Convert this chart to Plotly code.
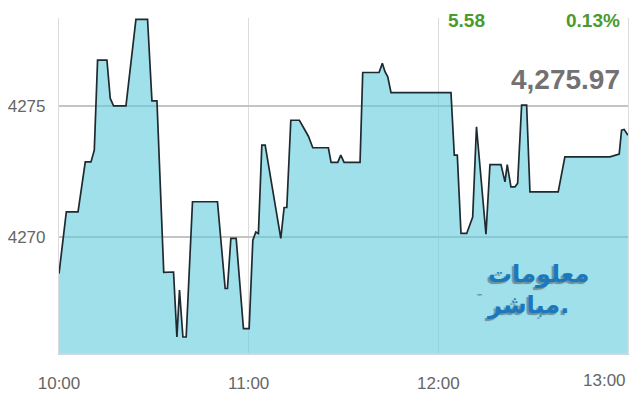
import plotly.graph_objects as go

DAY = "2020-01-01 "
times = ["10:00:00", "10:02:19", "10:06:01", "10:08:19", "10:10:07", "10:11:10", "10:12:12", "10:15:10",
         "10:16:13", "10:17:16", "10:21:11", "10:24:20", "10:28:01", "10:29:24", "10:30:59", "10:33:08",
         "10:36:14", "10:37:18", "10:38:07", "10:39:12", "10:40:14", "10:42:14", "10:50:08", "10:52:34",
         "10:53:17", "10:54:22", "10:56:03", "10:58:21", "11:00:09", "11:01:19", "11:02:16", "11:03:05",
         "11:04:10", "11:05:13", "11:10:10", "11:11:13", "11:12:04", "11:13:20", "11:16:03", "11:18:54",
         "11:20:17", "11:25:13", "11:26:04", "11:28:11", "11:29:08", "11:30:11", "11:35:14", "11:36:05",
         "11:41:15", "11:42:17", "11:43:08", "11:44:00", "11:45:02", "12:04:00", "12:05:03", "12:06:00",
         "12:07:10", "12:08:58", "12:10:52", "12:12:04", "12:15:04", "12:16:20", "12:19:49", "12:21:05",
         "12:21:48", "12:22:58", "12:24:14", "12:25:05", "12:26:21", "12:27:56", "12:28:59", "12:37:55",
         "12:40:02", "12:54:16", "12:57:13", "12:57:58", "12:58:47", "12:59:58"]
values = [4268.60, 4270.95, 4270.95, 4272.86, 4272.86, 4273.31, 4276.74, 4276.74,
          4275.28, 4275.00, 4275.00, 4278.30, 4278.30, 4275.19, 4275.19, 4268.65,
          4268.66, 4266.18, 4267.97, 4266.18, 4266.18, 4271.34, 4271.34, 4268.03,
          4268.03, 4269.94, 4269.94, 4266.50, 4266.50, 4269.87, 4270.19, 4270.13,
          4273.50, 4273.50, 4269.94, 4271.12, 4271.12, 4274.45, 4274.45, 4273.84,
          4273.40, 4273.40, 4272.84, 4272.84, 4273.12, 4272.84, 4272.84, 4276.27,
          4276.27, 4276.62, 4276.30, 4276.11, 4275.50, 4275.50, 4273.12, 4273.12,
          4270.13, 4270.13, 4270.76, 4274.20, 4270.10, 4272.76, 4272.76, 4272.10,
          4272.76, 4271.91, 4271.91, 4272.04, 4275.03, 4275.03, 4271.72, 4271.72,
          4273.05, 4273.05, 4273.16, 4274.07, 4274.10, 4273.88]

x_tick_labels = ["10:00", "11:00", "12:00"]
last_tick_label = "13:00"
y_ticks = [4270, 4275]
y_range = [4265.57, 4278.35]
x_range = ["10:00:00", "13:00:00"]

change_abs = "5.58"
change_pct = "0.13%"
last_price = "4,275.97"
logo_lines = ["معلومات", "مباشر."]

tick_font = dict(family="Liberation Sans, Arial, sans-serif", size=17, color="#666666")

fig = go.Figure()
fig.add_trace(go.Scatter(
    x=[DAY + t for t in times], y=values, mode="lines",
    line=dict(color="#1f2a30", width=1.7),
    fill="tozeroy", fillcolor="rgba(97,203,220,0.6)",
    hoverinfo="skip", showlegend=False,
))

# the page body adds an 8px offset, so the figure is sized to fill the rest of the window
fig.update_layout(
    width=632, height=392,
    margin=dict(l=51, r=12, t=10, b=47),
    paper_bgcolor="white", plot_bgcolor="white",
    xaxis=dict(
        range=[DAY + x_range[0], DAY + x_range[1]],
        tickvals=[DAY + t + ":00" for t in x_tick_labels], ticktext=x_tick_labels,
        showgrid=True, gridcolor="#dcdcdc", gridwidth=1.2,
        showline=True, linecolor="#cfd6e0", linewidth=1.5,
        ticks="", tickfont=tick_font, ticklabelstandoff=14,
        zeroline=False, fixedrange=True, automargin=False,
    ),
    yaxis=dict(
        range=y_range, tickvals=y_ticks, ticktext=[str(v) for v in y_ticks],
        showgrid=True, gridcolor="#c4c4c4", gridwidth=1.6,
        showline=True, linecolor="#dcdcdc", linewidth=1.2, mirror=True,
        ticks="", tickfont=tick_font, ticklabelstandoff=9,
        zeroline=False, fixedrange=True, automargin=False,
    ),
)

fig.add_annotation(x=DAY + x_range[1], y=0, xref="x", yref="paper", text=last_tick_label,
                   showarrow=False, xanchor="right", yanchor="top", yshift=-16, font=tick_font)

green = "#4a9a2c"
fig.add_annotation(x=DAY + "12:09:00", y=1.0, xref="x", yref="paper", text="<b>" + change_abs + "</b>",
                   showarrow=False, xanchor="center", yanchor="middle", yshift=-2,
                   font=dict(family="Liberation Sans, Arial, sans-serif", size=19, color=green))
fig.add_annotation(x=1.0, y=1.0, xref="paper", yref="paper", text="<b>" + change_pct + "</b>",
                   showarrow=False, xanchor="right", yanchor="middle", yshift=-2, xshift=-6,
                   font=dict(family="Liberation Sans, Arial, sans-serif", size=19, color=green))
fig.add_annotation(x=1.0, y=4276.0, xref="paper", yref="y", text="<b>" + last_price + "</b>",
                   showarrow=False, xanchor="right", yanchor="middle", xshift=-6,
                   font=dict(family="Liberation Sans, Arial, sans-serif", size=28, color="#727272"))

# logo (text) with shadow
fig.add_annotation(x=DAY + "12:14:45", y=4268.0, xref="x", yref="y",
                   text="<b>" + "<br>".join(logo_lines) + "</b>",
                   showarrow=False, xanchor="left", yanchor="middle", align="left",
                   font=dict(family="DejaVu Sans, sans-serif", size=24, color="#1b78bd",
                             shadow="-2px 2px 1px rgba(70,90,100,0.6)"))
fig.add_annotation(x=DAY + "12:14:45", y=4267.7, xref="x", yref="y", text="™",
                   showarrow=False, xanchor="right",
                   font=dict(family="DejaVu Sans, sans-serif", size=7, color="#555"))

fig.write_html("out.html")
